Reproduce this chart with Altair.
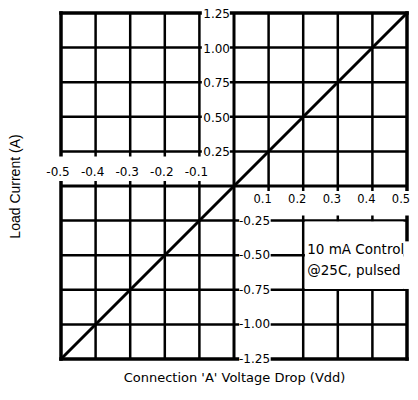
import altair as alt
import pandas as pd

# ---- data ----
x_vals = [-0.5, -0.4, -0.3, -0.2, -0.1, 0.1, 0.2, 0.3, 0.4, 0.5]
x_text = ["-0.5", "-0.4", "-0.3", "-0.2", "-0.1", "0.1", "0.2", "0.3", "0.4", "0.5"]
y_vals = [1.25, 1.00, 0.75, 0.50, 0.25, -0.25, -0.50, -0.75, -1.00, -1.25]
y_text = ["1.25", "1.00", "0.75", "0.50", "0.25", "-0.25", "-0.50", "-0.75", "-1.00", "-1.25"]
voltage = [-0.5, 0.5]
current = [-1.25, 1.25]
note = ["10 mA Control", "@25C, pulsed"]

XT = "Connection 'A' Voltage Drop (Vdd)"
YT = "Load Current (A)"
TICK_FONT = "DejaVu Sans"

xs = alt.Scale(domain=[-0.5, 0.5], nice=False, zero=False)
ys = alt.Scale(domain=[-1.25, 1.25], nice=False, zero=False)


def X(f):
    return alt.X(f, type="quantitative", scale=xs, title=XT)


def Y(f):
    return alt.Y(f, type="quantitative", scale=ys, title=YT)


inner_x = [v for v in x_vals if abs(v) < 0.5]
inner_y = [v for v in y_vals if abs(v) < 1.25]

vgrid = alt.Chart(pd.DataFrame({"x": inner_x})).mark_rule(color="black", strokeWidth=2.5).encode(x=X("x"))
hgrid = alt.Chart(pd.DataFrame({"y": inner_y})).mark_rule(color="black", strokeWidth=2.5).encode(y=Y("y"))
vborder = alt.Chart(pd.DataFrame({"x": [-0.5, 0.5]})).mark_rule(
    color="black", strokeWidth=3.5, strokeCap="square").encode(x=X("x"))
hborder = alt.Chart(pd.DataFrame({"y": [-1.25, 1.25]})).mark_rule(
    color="black", strokeWidth=3.5, strokeCap="square").encode(y=Y("y"))

# white panels behind the labels (layout helpers)
masks = pd.DataFrame({
    "x":  [-0.56, -0.093, 0.004, 0.015, 0.205, 0.49],
    "x2": [-0.004, -0.012, 0.56, 0.106, 0.49, 0.53],
    "y":  [0.036, 0.2, -0.214, -1.27, -0.256, -0.40],
    "y2": [0.214, 1.27, -0.036, -0.2, -0.744, -0.744],
})
mask = alt.Chart(masks).mark_rect(color="white").encode(x=X("x"), x2="x2", y=Y("y"), y2="y2")

xaxis = alt.Chart(pd.DataFrame({"y": [0]})).mark_rule(color="black", strokeWidth=3).encode(y=Y("y"))
yaxis = alt.Chart(pd.DataFrame({"x": [0]})).mark_rule(color="black", strokeWidth=3).encode(x=X("x"))

line = alt.Chart(pd.DataFrame({"v": voltage, "c": current})).mark_line(
    color="black", strokeWidth=3).encode(x=X("v"), y=Y("c"))

xl = pd.DataFrame({"x": x_vals, "t": x_text})
xl["row"] = [0.125 if v < 0 else -0.125 for v in x_vals]
xneg = alt.Chart(xl[xl.x < 0]).mark_text(
    font=TICK_FONT, fontSize=12, color="black", baseline="middle", dx=-3, dy=3
).encode(x=X("x"), y=Y("row"), text="t")
xpos = alt.Chart(xl[xl.x > 0]).mark_text(
    font=TICK_FONT, fontSize=11.5, color="black", baseline="middle", dx=-6, dy=-3
).encode(x=X("x"), y=Y("row"), text="t")

yl = pd.DataFrame({"y": y_vals, "t": y_text, "col": [0.0] * len(y_vals)})
ypos = alt.Chart(yl[yl.y > 0]).mark_text(
    font=TICK_FONT, fontSize=12, color="black", baseline="middle", align="right", dx=-4, dy=1
).encode(x=X("col"), y=Y("y"), text="t")
yneg = alt.Chart(yl[yl.y < 0]).mark_text(
    font=TICK_FONT, fontSize=12, color="black", baseline="middle", align="left", dx=5
).encode(x=X("col"), y=Y("y"), text="t")

ann = alt.Chart(pd.DataFrame({"x": [0.2], "y": [-0.465], "t": [note]})).mark_text(
    font=TICK_FONT, fontSize=13.5, color="black", align="left", baseline="middle", lineHeight=21, dx=4
).encode(x=X("x"), y=Y("y"), text="t")

chart = alt.layer(
    vgrid, hgrid, vborder, hborder, mask, xaxis, yaxis, line, xneg, xpos, ypos, yneg, ann
).properties(
    width=346, height=346,
    autosize=alt.AutoSizeParams(type="none"),
    padding={"left": 53, "top": 5, "right": 3, "bottom": 28},
).configure_view(stroke=None).configure_axis(
    labels=False, ticks=False, domain=False, grid=False,
    titleFontWeight="normal", titleColor="black",
).configure_axisX(
    titleFont=TICK_FONT, titleFontSize=13, titlePadding=12,
).configure_axisY(
    titleFont="Liberation Sans", titleFontSize=14, titlePadding=39,
)

chart.save("out.html", embed_options={"renderer": "svg", "actions": False})
